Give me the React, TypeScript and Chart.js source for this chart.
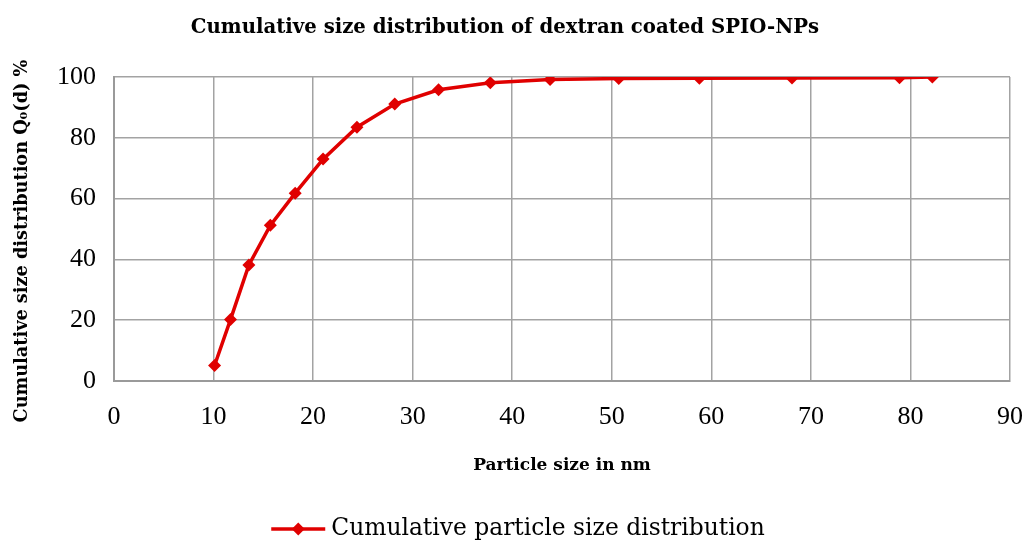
import React, { useEffect, useRef } from "react";
import { Chart, registerables } from "chart.js";

Chart.register(...registerables);

const chartTitle = "Cumulative size distribution of dextran coated SPIO-NPs";
const xAxisTitle = "Particle size in nm";
const yAxisTitle = "Cumulative size distribution Q\u2080(d) %";
const seriesLabel = "Cumulative particle size distribution";

const particleSizes = [10.1, 11.7, 13.55, 15.7, 18.2, 21.0, 24.4, 28.2, 32.6, 37.8, 43.8, 50.7, 58.8, 68.1, 78.9, 82.2];
const cumulativeQ0 = [5.1, 20.2, 38.2, 51.2, 61.8, 73.0, 83.5, 91.1, 95.8, 98.1, 99.2, 99.5, 99.6, 99.7, 99.8, 100];

const xMin = 0;
const xMax = 90;
const xStep = 10;
const yMin = 0;
const yMax = 100;
const yStep = 20;

const TEXT_FONT = "'DejaVu Serif', 'Liberation Serif', serif";
const NUM_FONT = "'Liberation Serif', 'Times New Roman', serif";
const RED = "#e00000";
const GRID = "#a3a3a3";

const legendPlugin = {
  id: "lineDiamondLegend",
  afterDraw(chart: any) {
    const ctx = chart.ctx;
    ctx.save();
    // vertical axis title
    ctx.save();
    ctx.font = `bold 17.7px ${TEXT_FONT}`;
    ctx.fillStyle = "#000";
    ctx.textAlign = "center";
    ctx.textBaseline = "middle";
    ctx.translate(22, 241);
    ctx.rotate(-Math.PI / 2);
    ctx.fillText(yAxisTitle, 0, 0);
    ctx.restore();

    // legend
    ctx.font = `23.4px ${TEXT_FONT}`;
    const tw = ctx.measureText(seriesLabel).width;
    const lineW = 54;
    const gap = 6;
    const total = lineW + gap + tw;
    const cx = 518;
    const y = 529;
    const x0 = cx - total / 2;
    ctx.strokeStyle = RED;
    ctx.lineWidth = 3.5;
    ctx.beginPath();
    ctx.moveTo(x0, y);
    ctx.lineTo(x0 + lineW, y);
    ctx.stroke();
    const mx = x0 + lineW / 2;
    const r = 6.5;
    ctx.fillStyle = RED;
    ctx.beginPath();
    ctx.moveTo(mx, y - r);
    ctx.lineTo(mx + r, y);
    ctx.lineTo(mx, y + r);
    ctx.lineTo(mx - r, y);
    ctx.closePath();
    ctx.fill();
    ctx.fillStyle = "#000";
    ctx.textBaseline = "middle";
    ctx.textAlign = "left";
    ctx.fillText(seriesLabel, x0 + lineW + gap, y);
    ctx.restore();
  },
};

export default function App() {
  const canvasRef = useRef<HTMLCanvasElement | null>(null);

  useEffect(() => {
    const canvas = canvasRef.current;
    if (!canvas) return;
    const data = particleSizes.map((x, i) => ({ x, y: cumulativeQ0[i] }));
    const chart = new Chart(canvas, {
      type: "line",
      data: {
        datasets: [
          {
            label: seriesLabel,
            data,
            borderColor: RED,
            backgroundColor: RED,
            borderWidth: 3.5,
            pointStyle: "rectRot",
            pointRadius: 6.5,
            pointHoverRadius: 6.5,
            pointBackgroundColor: RED,
            pointBorderColor: RED,
            pointBorderWidth: 0,
            tension: 0,
            fill: false,
          },
        ],
      },
      options: {
        animation: false,
        responsive: false,
        maintainAspectRatio: false,
        layout: { padding: { left: 0, right: 14, top: 0, bottom: 55 } },
        plugins: {
          legend: { display: false },
          tooltip: { enabled: false },
          title: {
            display: true,
            text: chartTitle,
            color: "#000",
            font: { family: TEXT_FONT, size: 19.7, weight: "bold", lineHeight: 1.2 },
            padding: { top: 16, bottom: 37.4 },
          },
        },
        scales: {
          x: {
            type: "linear",
            min: xMin,
            max: xMax,
            position: "bottom",
            afterFit: (s: any) => {
              s.height = 109;
            },
            ticks: {
              stepSize: xStep,
              color: "#000",
              font: { family: NUM_FONT, size: 26, lineHeight: 1.2 },
              padding: 0,
              maxRotation: 0,
            },
            grid: { color: GRID, lineWidth: 1.5, drawTicks: true, tickLength: 21, tickColor: "rgba(0,0,0,0)" },
            border: { color: "#9a9a9a", width: 2 },
            title: {
              display: true,
              text: xAxisTitle,
              color: "#000",
              font: { family: TEXT_FONT, size: 17, weight: "bold", lineHeight: 1.2 },
              padding: { top: 0, bottom: 14 },
            },
          },
          y: {
            type: "linear",
            min: yMin,
            max: yMax,
            position: "left",
            afterFit: (s: any) => {
              s.width = 114;
            },
            ticks: {
              stepSize: yStep,
              color: "#000",
              font: { family: NUM_FONT, size: 26, lineHeight: 1.2 },
              padding: 18,
            },
            grid: { color: GRID, lineWidth: 1.5, drawTicks: false },
            border: { color: "#9a9a9a", width: 2 },
            title: { display: false, text: yAxisTitle },
          },
        },
      },
      plugins: [legendPlugin],
    });
    return () => chart.destroy();
  }, []);

  return (
    <div style={{ position: "fixed", left: 0, top: 0, width: 1024, height: 545, background: "#fff" }}>
      <canvas ref={canvasRef} width={1024} height={545} style={{ width: 1024, height: 545, display: "block" }} />
    </div>
  );
}
